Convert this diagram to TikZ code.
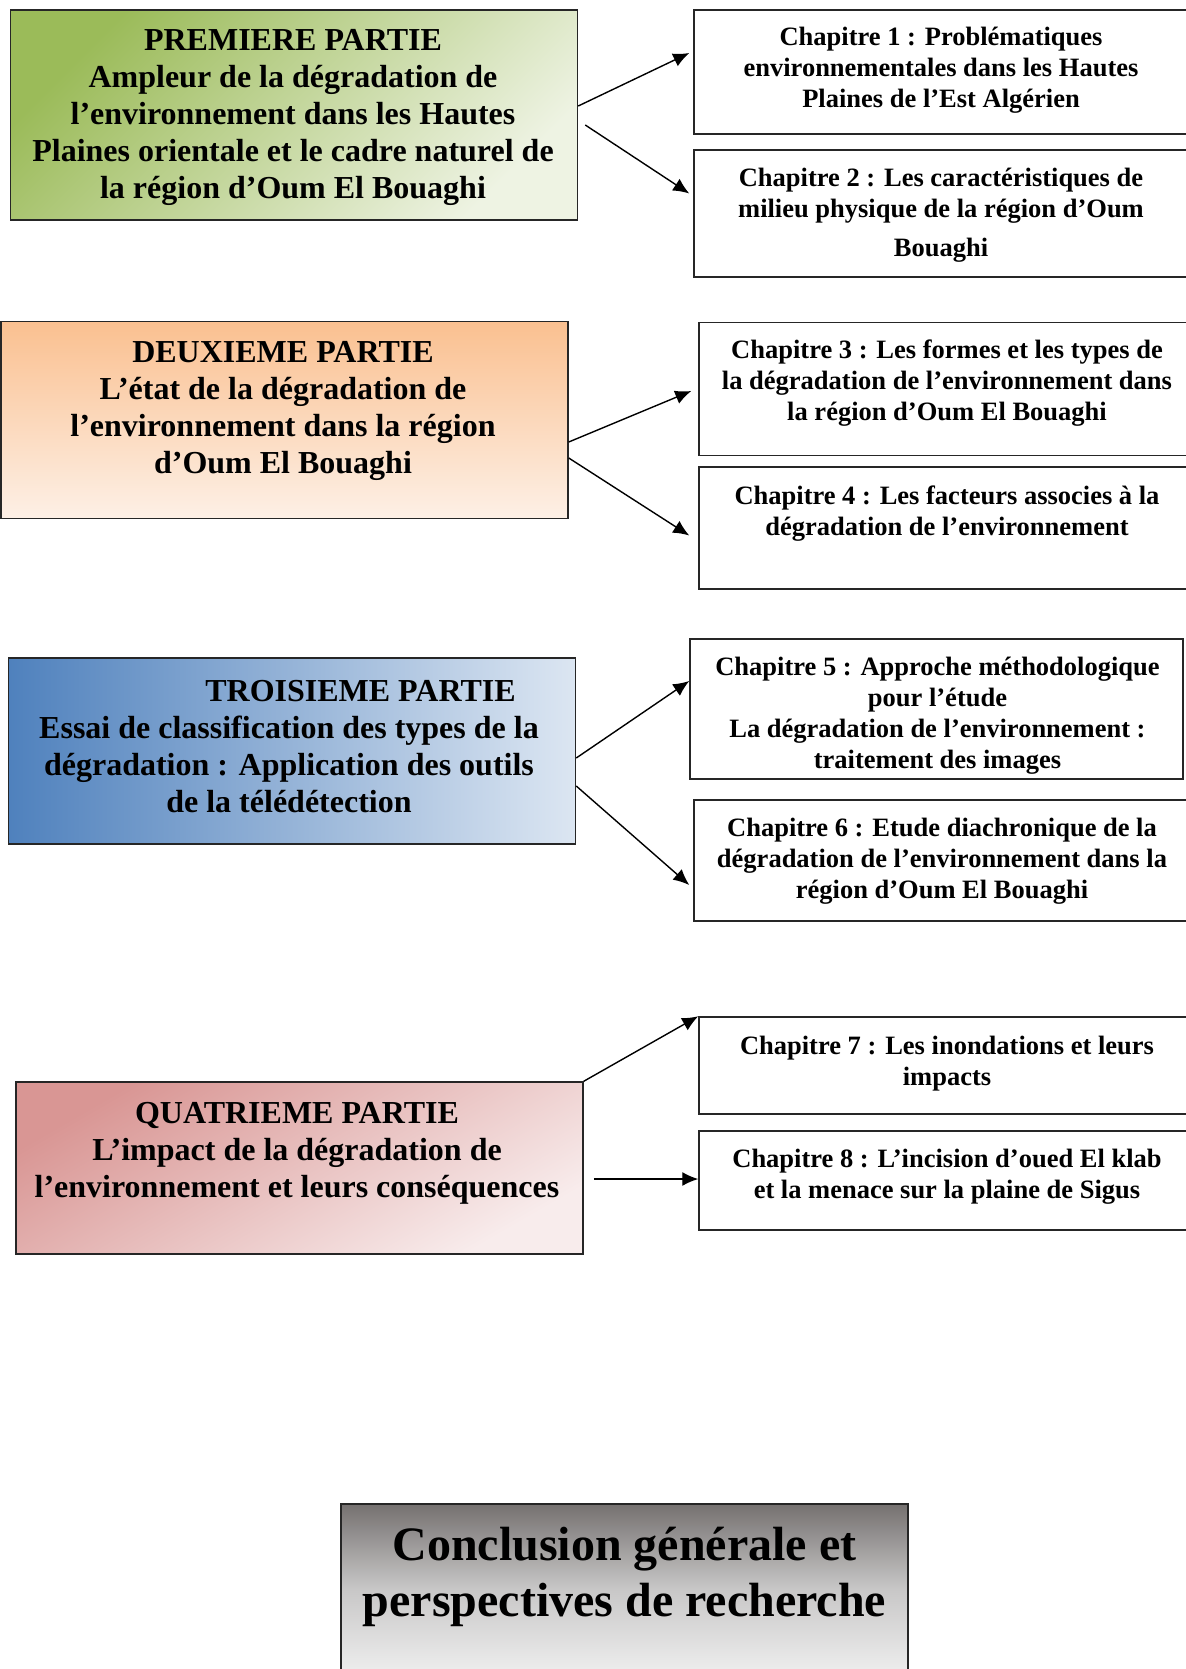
\documentclass[tikz,border=0pt]{standalone}
\usepackage{fontspec}
\setmainfont{Liberation Serif}
\usetikzlibrary{arrows.meta}
\definecolor{vertA}{HTML}{9BBB59}\definecolor{vertB}{HTML}{EEF3E3}
\definecolor{orangeA}{HTML}{FAC090}\definecolor{orangeB}{HTML}{FDF0E6}
\definecolor{bleuA}{HTML}{4F81BD}\definecolor{bleuB}{HTML}{DCE6F2}
\definecolor{rougeA}{HTML}{D99694}\definecolor{rougeB}{HTML}{F8ECEC}
\definecolor{grisA}{HTML}{757170}\definecolor{grisM}{HTML}{C8C7C7}\definecolor{grisB}{HTML}{EEEEEE}
\begin{document}
\begin{tikzpicture}[x=1pt,y=-1pt,
  box/.style={draw=black!85,line width=1.5pt,inner sep=0pt},
  partie/.style={box,minimum width=567pt},
  chap/.style={box,fill=white,minimum width=496pt},
  ptxt/.style={align=center,inner sep=0pt,font=\fontsize{32}{37}\selectfont\bfseries},
  ctxt/.style={align=center,inner sep=0pt,font=\fontsize{26.5}{31}\selectfont\bfseries},
  arr/.style={line width=1.4pt,-{Latex[length=16pt,width=14pt]}}]
  \useasboundingbox (0,0) rectangle (1185,1669);
  % parties (left column)
  \node[partie,minimum height=210pt,top color=vertA,bottom color=vertB,shading angle=45] (p1) at (294,115) {};
  \node[partie,minimum height=197pt,top color=orangeA,bottom color=orangeB] (p2) at (284.5,420) {};
  \node[partie,minimum height=186pt,left color=bleuA,right color=bleuB] (p3) at (292,751) {};
  \node[partie,minimum height=172pt,top color=rougeA,bottom color=rougeB,shading angle=30] (p4) at (299.5,1168) {};
  \node[partie,minimum height=170pt,top color=grisA,bottom color=grisB,middle color=grisM] (concl) at (624.5,1589) {};
  % chapitres (right column)
  \node[chap,minimum height=124pt] (c1) at (942,72) {};
  \node[chap,minimum height=127pt] (c2) at (942,213.5) {};
  \node[chap,minimum height=133pt] (c3) at (947,389) {};
  \node[chap,minimum height=122pt] (c4) at (947,528) {};
  \node[chap,minimum height=140pt,minimum width=493pt] (c5) at (936.5,709) {};
  \node[chap,minimum height=121pt] (c6) at (942,860.5) {};
  \node[chap,minimum height=97pt] (c7) at (947,1065.5) {};
  \node[chap,minimum height=99pt] (c8) at (947,1180.5) {};
  % texts
  \node[ptxt] (p1t) at (293,117.5) {PREMIERE PARTIE\\Ampleur de la dégradation de\\l’environnement dans les Hautes\\Plaines orientale et le cadre naturel de\\la région d’Oum El Bouaghi};
  \node[ptxt] (p2t) at (283,410.5) {DEUXIEME PARTIE\\L’état de la dégradation de\\l’environnement dans la région\\d’Oum El Bouaghi};
  \node[ptxt] (p3t) at (289,747) {\hspace*{143pt}TROISIEME PARTIE\\Essai de classification des types de la\\dégradation : Application des outils\\de la télédétection};
  \node[ptxt] (p4t) at (297,1153) {QUATRIEME PARTIE\\L’impact de la dégradation de\\l’environnement et leurs conséquences};
  \node[align=center,inner sep=0pt,font=\fontsize{48}{56}\selectfont\bfseries] (conclt) at (624.5,1577) {Conclusion générale et\\perspectives de recherche};
  \node[ctxt] (c1t) at (941,70.5) {Chapitre 1 : Problématiques\\environnementales dans les Hautes\\Plaines de l’Est Algérien};
  \node[ctxt] (c2t) at (941,215.5) {Chapitre 2 : Les caractéristiques de\\milieu physique de la région d’Oum\\[8pt]Bouaghi};
  \node[ctxt] (c3t) at (947,383) {Chapitre 3 : Les formes et les types de\\la dégradation de l’environnement dans\\la région d’Oum El Bouaghi};
  \node[ctxt] (c4t) at (947,513.5) {Chapitre 4 : Les facteurs associes à la\\dégradation de l’environnement};
  \node[ctxt] (c5t) at (937.5,715.5) {Chapitre 5 : Approche méthodologique\\pour l’étude\\La dégradation de l’environnement :\\traitement des images};
  \node[ctxt] (c6t) at (942,861) {Chapitre 6 : Etude diachronique de la\\dégradation de l’environnement dans la\\région d’Oum El Bouaghi};
  \node[ctxt] (c7t) at (947,1063.5) {Chapitre 7 : Les inondations et leurs\\impacts};
  \node[ctxt] (c8t) at (947,1177) {Chapitre 8 : L’incision d’oued El klab\\et la menace sur la plaine de Sigus};
  % arrows
  \draw[arr] ([yshift=9pt]p1.east) -- ([xshift=-4pt,yshift=19pt]c1.west);
  \draw[arr] ([xshift=7pt,yshift=-10pt]p1.east) -- ([xshift=-4pt,yshift=20pt]c2.west);
  \draw[arr] ([yshift=-22pt]p2.east) -- ([xshift=-7pt,yshift=-2pt]c3.west);
  \draw[arr] ([yshift=-38pt]p2.east) -- ([xshift=-9pt,yshift=-7.5pt]c4.west);
  \draw[arr] ([yshift=-7pt]p3.east) -- ([yshift=28pt]c5.west);
  \draw[arr] ([yshift=-35pt]p3.east) -- ([xshift=-4pt,yshift=-24.5pt]c6.west);
  \draw[arr] (p4.north east) -- (c7.north west);
  \draw[arr] ([xshift=10pt,yshift=-11pt]p4.east) -- ([yshift=-11pt]p4.east -| c8.west);
\end{tikzpicture}
\end{document}
